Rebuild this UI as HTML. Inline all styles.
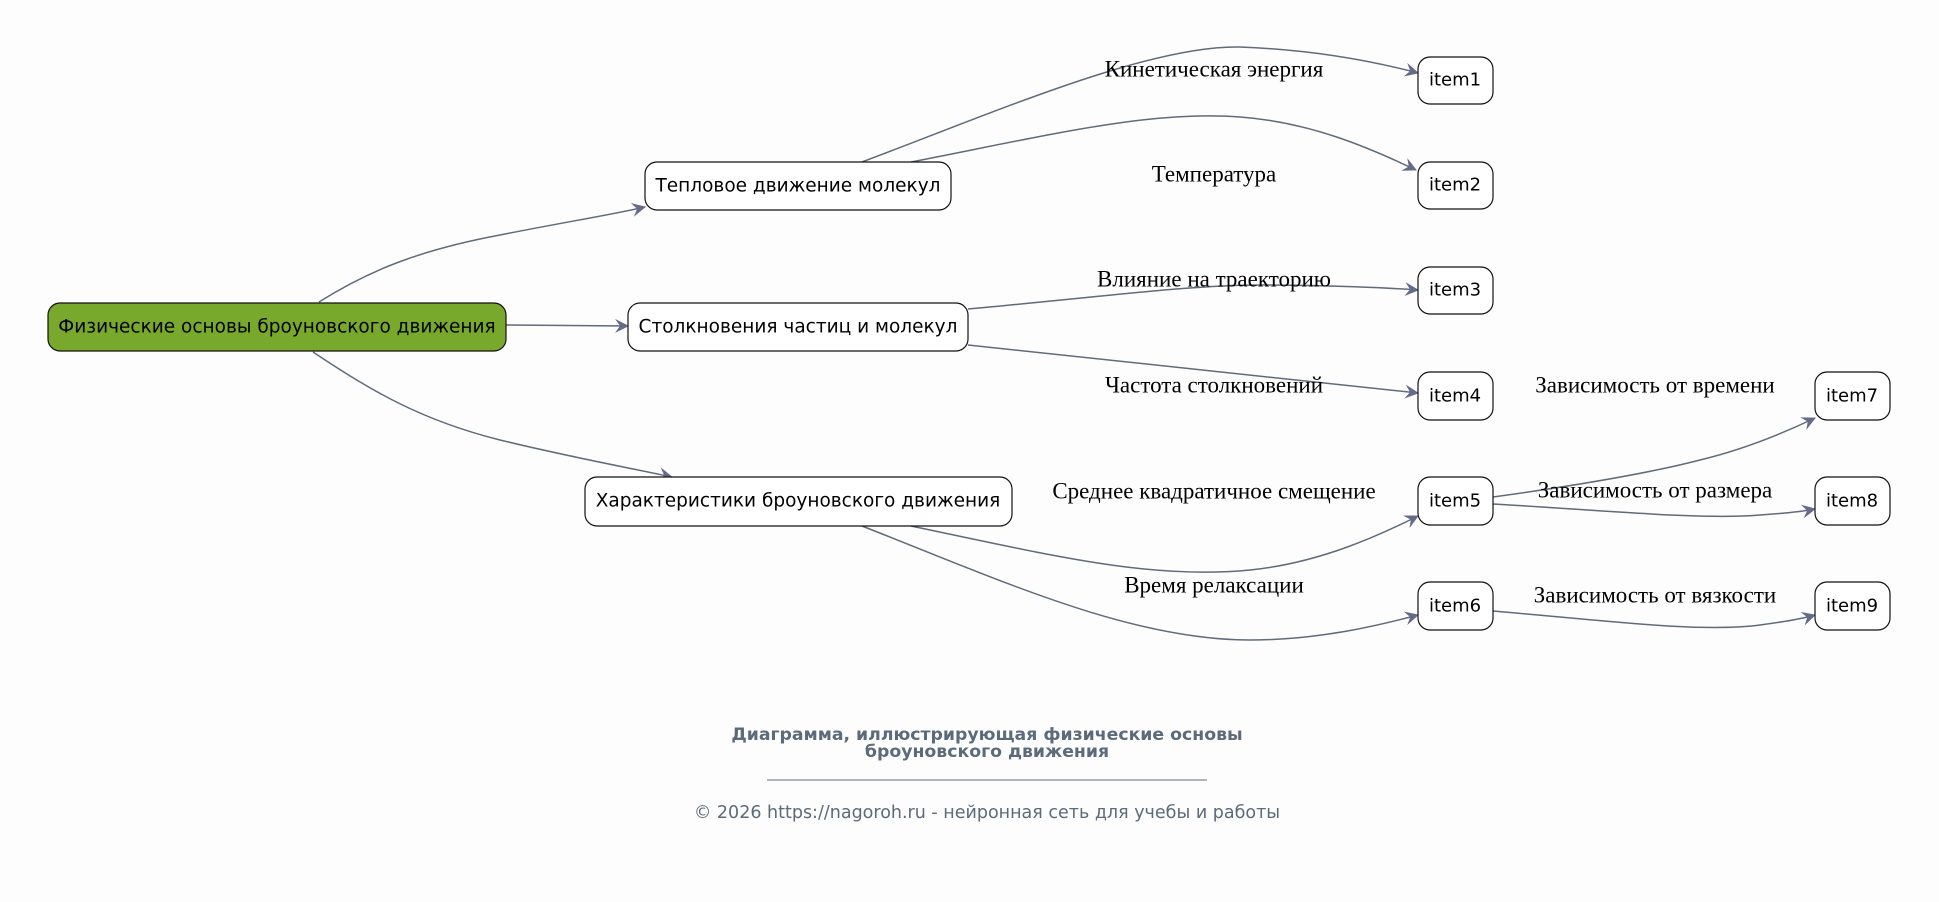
<!DOCTYPE html>
<html><head><meta charset="utf-8"><style>
html,body{margin:0;padding:0;background:#fdfdfd;}
body{width:1939px;height:897px;overflow:hidden;}
</style></head><body>
<svg width="1939" height="897" viewBox="0 0 1939 897" xmlns="http://www.w3.org/2000/svg">
<defs>
<marker id="a" viewBox="0 0 14 14" refX="13" refY="7" markerWidth="14" markerHeight="14" markerUnits="userSpaceOnUse" orient="auto">
<path d="M0,0 L14,7 L0,14 L5,7 z" fill="#646a8a"/>
</marker>
</defs>
<rect width="1939" height="897" fill="#fdfdfd"/>
<g fill="none" stroke="#5f6b7a" stroke-width="1.5" marker-end="url(#a)">
<path d="M319,302 C370,270 420,250 500,235 C560,223 610,215 645,207"/>
<path d="M506,325 L628,326"/>
<path d="M313,352 C370,390 420,420 500,440 C570,457 630,468 672,477"/>
<path d="M862,162 C1000,110 1150,45 1240,47 C1320,50 1380,63 1418,73"/>
<path d="M911,162 C1050,135 1150,110 1240,117 C1310,122 1370,148 1416,170"/>
<path d="M968,309 C1100,297 1190,285 1260,285 C1330,285 1390,288 1418,290"/>
<path d="M968,345 L1418,393"/>
<path d="M911,526 C1050,555 1150,580 1250,570 C1320,563 1380,535 1418,516"/>
<path d="M862,526 C1000,580 1130,640 1250,640 C1320,640 1380,625 1418,615"/>
<path d="M1493,497 C1580,485 1650,473 1700,460 C1750,448 1790,430 1815,418"/>
<path d="M1493,504 C1600,510 1700,520 1760,515 C1790,513 1805,511 1815,509"/>
<path d="M1493,611 C1600,620 1700,633 1760,625 C1790,621 1805,618 1815,615"/>
</g>
<g stroke="#111" stroke-width="1.2">
<rect x="48" y="303" width="458" height="48" rx="12" fill="#78a82c"/>
<rect x="645" y="162" width="306" height="48" rx="12" fill="#fff"/>
<rect x="628" y="303" width="340" height="48" rx="12" fill="#fff"/>
<rect x="585" y="477" width="427" height="49" rx="12" fill="#fff"/>
<rect x="1418" y="57" width="75" height="47" rx="12" fill="#fff"/>
<rect x="1418" y="162" width="75" height="47" rx="12" fill="#fff"/>
<rect x="1418" y="267" width="75" height="47" rx="12" fill="#fff"/>
<rect x="1418" y="372" width="75" height="48" rx="12" fill="#fff"/>
<rect x="1418" y="477" width="75" height="48" rx="12" fill="#fff"/>
<rect x="1418" y="582" width="75" height="48" rx="12" fill="#fff"/>
<rect x="1815" y="372" width="75" height="48" rx="12" fill="#fff"/>
<rect x="1815" y="477" width="75" height="48" rx="12" fill="#fff"/>
<rect x="1815" y="582" width="75" height="48" rx="12" fill="#fff"/>
</g>
<g font-family="'DejaVu Sans','Liberation Sans',sans-serif" font-size="18.5" fill="#000" text-anchor="middle" dominant-baseline="central">
<text x="277" y="327">Физические основы броуновского движения</text>
<text x="798" y="186">Тепловое движение молекул</text>
<text x="798" y="327">Столкновения частиц и молекул</text>
<text x="798" y="501">Характеристики броуновского движения</text>
</g>
<g font-family="'DejaVu Sans','Liberation Sans',sans-serif" font-size="18" fill="#000" text-anchor="middle" dominant-baseline="central">
<text x="1455" y="80">item1</text>
<text x="1455" y="185">item2</text>
<text x="1455" y="290">item3</text>
<text x="1455" y="396">item4</text>
<text x="1455" y="501">item5</text>
<text x="1455" y="606">item6</text>
<text x="1852" y="396">item7</text>
<text x="1852" y="501">item8</text>
<text x="1852" y="606">item9</text>
</g>
<g font-family="'Liberation Serif','DejaVu Serif',serif" font-size="23" fill="#000" text-anchor="middle" dominant-baseline="central">
<text x="1214" y="69">Кинетическая энергия</text>
<text x="1214" y="174">Температура</text>
<text x="1214" y="279">Влияние на траекторию</text>
<text x="1214" y="385">Частота столкновений</text>
<text x="1214" y="491">Среднее квадратичное смещение</text>
<text x="1214" y="585">Время релаксации</text>
<text x="1655" y="385">Зависимость от времени</text>
<text x="1655" y="490">Зависимость от размера</text>
<text x="1655" y="595">Зависимость от вязкости</text>
</g>
<g font-family="'DejaVu Sans','Liberation Sans',sans-serif" fill="#5c6a7a" text-anchor="middle">
<text x="987" y="740" font-size="17.3" font-weight="bold">Диаграмма, иллюстрирующая физические основы</text>
<text x="987" y="757" font-size="17.3" font-weight="bold">броуновского движения</text>
<line x1="767" y1="780" x2="1207" y2="780" stroke="#5c6a7a" stroke-width="1"/>
<text x="987" y="818" font-size="17.5">© 2026 https://nagoroh.ru - нейронная сеть для учебы и работы</text>
</g>
</svg>
</body></html>
